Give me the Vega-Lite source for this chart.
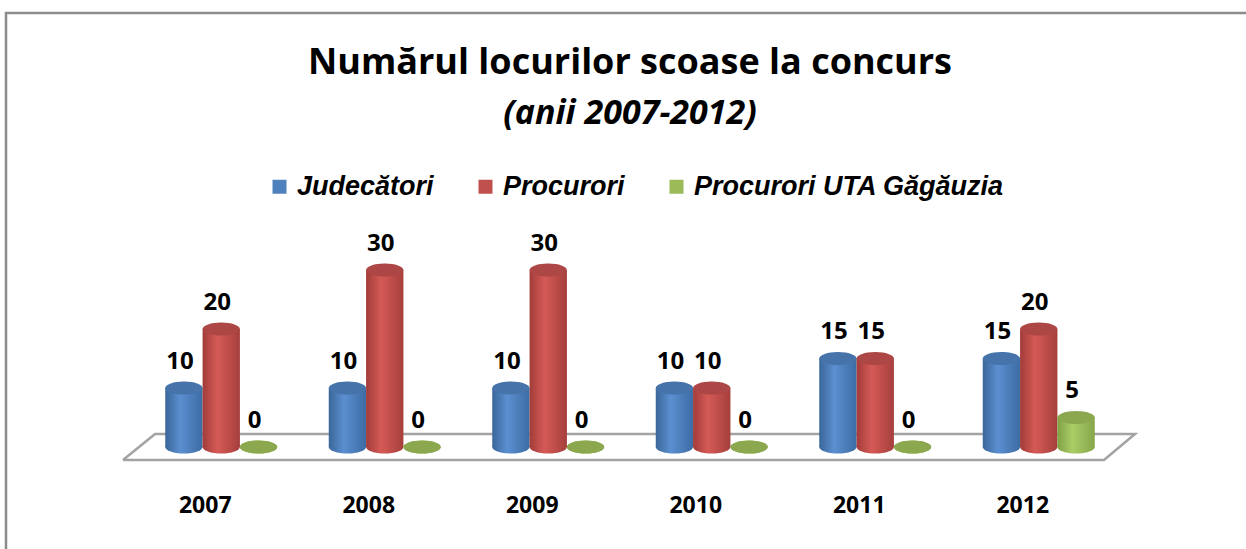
{
  "$schema": "https://vega.github.io/schema/vega-lite/v6.json",
  "width": 1248,
  "height": 540,
  "autosize": {"type": "none"},
  "padding": {"left": 6, "top": 13, "right": 0, "bottom": 0},
  "background": "white",
  "view": {"stroke": "#8c8c8c", "strokeWidth": 2.5, "fill": "white"},
  "title": {
    "text": "Numărul locurilor scoase la concurs",
    "subtitle": "(anii 2007-2012)",
    "anchor": "middle",
    "frame": "group",
    "offset": -119,
    "font": "Open Sans",
    "fontSize": 36,
    "fontWeight": "bold",
    "color": "black",
    "subtitleFont": "Open Sans",
    "subtitleFontSize": 34,
    "subtitleFontWeight": "bold",
    "subtitleFontStyle": "italic",
    "subtitleColor": "black",
    "subtitlePadding": 15
  },
  "resolve": {"scale": {"x": "independent"}, "axis": {"x": "independent"}},
  "layer": [
    {
      "data": {"values": [
        {"fx": -0.098, "fy": -2.2, "ord": 0},
        {"fx": 5.902, "fy": -2.2, "ord": 1},
        {"fx": 6.092, "fy": 2.2, "ord": 2},
        {"fx": 0.098, "fy": 2.2, "ord": 3},
        {"fx": -0.098, "fy": -2.2, "ord": 4}
      ]},
      "mark": {"type": "line", "color": "#a3a3a3", "strokeWidth": 2.5, "strokeJoin": "miter"},
      "encoding": {
        "x": {"field": "fx", "type": "quantitative", "scale": {"domain": [-0.8135, 6.8196], "nice": false, "zero": false}, "axis": null},
        "y": {"field": "fy", "type": "quantitative", "scale": {"domain": [-17.97, 73.56], "nice": false, "zero": false}, "axis": null},
        "order": {"field": "ord", "type": "quantitative"}
      }
    },
    {
      "data": {"values": [
        {"year": "2007", "series": "Judecători", "value": 10},
        {"year": "2007", "series": "Procurori", "value": 20},
        {"year": "2007", "series": "Procurori UTA Găgăuzia", "value": 0},
        {"year": "2008", "series": "Judecători", "value": 10},
        {"year": "2008", "series": "Procurori", "value": 30},
        {"year": "2008", "series": "Procurori UTA Găgăuzia", "value": 0},
        {"year": "2009", "series": "Judecători", "value": 10},
        {"year": "2009", "series": "Procurori", "value": 30},
        {"year": "2009", "series": "Procurori UTA Găgăuzia", "value": 0},
        {"year": "2010", "series": "Judecători", "value": 10},
        {"year": "2010", "series": "Procurori", "value": 10},
        {"year": "2010", "series": "Procurori UTA Găgăuzia", "value": 0},
        {"year": "2011", "series": "Judecători", "value": 15},
        {"year": "2011", "series": "Procurori", "value": 15},
        {"year": "2011", "series": "Procurori UTA Găgăuzia", "value": 0},
        {"year": "2012", "series": "Judecători", "value": 15},
        {"year": "2012", "series": "Procurori", "value": 20},
        {"year": "2012", "series": "Procurori UTA Găgăuzia", "value": 5}
      ]},
      "encoding": {
        "x": {
          "field": "year", "type": "nominal",
          "scale": {"paddingInner": 0.315, "paddingOuter": 0.974},
          "axis": {"title": null, "orient": "bottom", "offset": -48, "domain": false, "ticks": false, "tickSize": 0, "labelPadding": 0, "labelBaseline": "middle", "labelOffset": -16, "labelAngle": 0, "labelFont": "Open Sans", "labelFontWeight": "bold", "labelFontSize": 23, "labelColor": "black"}
        },
        "xOffset": {
          "field": "series", "type": "nominal",
          "scale": {"domain": ["Judecători", "Procurori", "Procurori UTA Găgăuzia"], "paddingInner": 0, "paddingOuter": 0}
        }
      },
      "layer": [
        {
          "transform": [{"filter": "datum.series === 'Judecători'"}],
          "layer": [
            {
              "mark": {"type": "point", "filled": true, "strokeWidth": 0, "opacity": 1, "size": 1391, "shape": "M-1,0A1,0.35,0,1,1,1,0A1,0.35,0,1,1,-1,0Z",
                "fill": {"gradient": "linear", "x1": 0, "y1": 0, "x2": 1, "y2": 0, "stops": [{"offset": 0, "color": "#3a6699"}, {"offset": 0.4, "color": "#5b8fd0"}, {"offset": 1, "color": "#3d6ca4"}]}},
              "encoding": {"y": {"datum": 0, "type": "quantitative", "scale": {"domain": [-17.97, 73.56], "nice": false, "zero": false}, "axis": null}}
            },
            {
              "mark": {"type": "bar", "strokeWidth": 0,
                "fill": {"gradient": "linear", "x1": 0, "y1": 0, "x2": 1, "y2": 0, "stops": [{"offset": 0, "color": "#3a6699"}, {"offset": 0.4, "color": "#5b8fd0"}, {"offset": 1, "color": "#3d6ca4"}]}},
              "encoding": {"y": {"field": "value", "type": "quantitative", "scale": {"domain": [-17.97, 73.56], "nice": false, "zero": false}, "axis": null}, "y2": {"datum": 0}}
            }
          ]
        },
        {
          "transform": [{"filter": "datum.series === 'Procurori'"}],
          "layer": [
            {
              "mark": {"type": "point", "filled": true, "strokeWidth": 0, "opacity": 1, "size": 1391, "shape": "M-1,0A1,0.35,0,1,1,1,0A1,0.35,0,1,1,-1,0Z",
                "fill": {"gradient": "linear", "x1": 0, "y1": 0, "x2": 1, "y2": 0, "stops": [{"offset": 0, "color": "#a13c39"}, {"offset": 0.4, "color": "#d55a56"}, {"offset": 1, "color": "#a53f3c"}]}},
              "encoding": {"y": {"datum": 0, "type": "quantitative"}}
            },
            {
              "mark": {"type": "bar", "strokeWidth": 0,
                "fill": {"gradient": "linear", "x1": 0, "y1": 0, "x2": 1, "y2": 0, "stops": [{"offset": 0, "color": "#a13c39"}, {"offset": 0.4, "color": "#d55a56"}, {"offset": 1, "color": "#a53f3c"}]}},
              "encoding": {"y": {"field": "value", "type": "quantitative"}, "y2": {"datum": 0}}
            }
          ]
        },
        {
          "transform": [{"filter": "datum.series === 'Procurori UTA Găgăuzia'"}],
          "layer": [
            {
              "mark": {"type": "point", "filled": true, "strokeWidth": 0, "opacity": 1, "size": 1391, "shape": "M-1,0A1,0.35,0,1,1,1,0A1,0.35,0,1,1,-1,0Z",
                "fill": {"gradient": "linear", "x1": 0, "y1": 0, "x2": 1, "y2": 0, "stops": [{"offset": 0, "color": "#80a044"}, {"offset": 0.4, "color": "#abcd66"}, {"offset": 1, "color": "#86a64a"}]}},
              "encoding": {"y": {"datum": 0, "type": "quantitative"}}
            },
            {
              "mark": {"type": "bar", "strokeWidth": 0,
                "fill": {"gradient": "linear", "x1": 0, "y1": 0, "x2": 1, "y2": 0, "stops": [{"offset": 0, "color": "#80a044"}, {"offset": 0.4, "color": "#abcd66"}, {"offset": 1, "color": "#86a64a"}]}},
              "encoding": {"y": {"field": "value", "type": "quantitative"}, "y2": {"datum": 0}}
            }
          ]
        },
        {
          "mark": {"type": "point", "filled": true, "strokeWidth": 0, "opacity": 1, "size": 1391, "shape": "M-1,0A1,0.35,0,1,1,1,0A1,0.35,0,1,1,-1,0Z"},
          "encoding": {
            "y": {"field": "value", "type": "quantitative"},
            "color": {
              "field": "series", "type": "nominal",
              "scale": {"domain": ["Judecători", "Procurori", "Procurori UTA Găgăuzia"], "range": ["#4F81BD", "#C0504D", "#9BBB59"]},
              "legend": {"orient": "none", "legendX": 260, "legendY": 160, "direction": "horizontal", "title": null, "symbolType": "square", "symbolSize": 196, "symbolStrokeWidth": 0, "symbolOpacity": 1, "labelFont": "Liberation Sans", "labelFontSize": 27, "labelFontWeight": "bold", "labelFontStyle": "italic", "labelColor": "black", "labelOffset": 4, "columnPadding": 38, "padding": 0, "labelLimit": 0}
            }
          }
        },
        {
          "mark": {"type": "point", "filled": true, "strokeWidth": 0, "opacity": 1, "size": 1391, "shape": "M-1,0A1,0.35,0,1,1,1,0A1,0.35,0,1,1,-1,0Z", "fill": "rgba(0,0,0,0.1)"},
          "encoding": {"y": {"field": "value", "type": "quantitative"}}
        },
        {
          "mark": {"type": "text", "font": "Open Sans", "fontWeight": "bold", "fontSize": 24, "color": "black", "baseline": "middle", "dy": -26, "dx": -4},
          "encoding": {
            "y": {"field": "value", "type": "quantitative"},
            "text": {"field": "value", "type": "quantitative"}
          }
        }
      ]
    }
  ]
}
